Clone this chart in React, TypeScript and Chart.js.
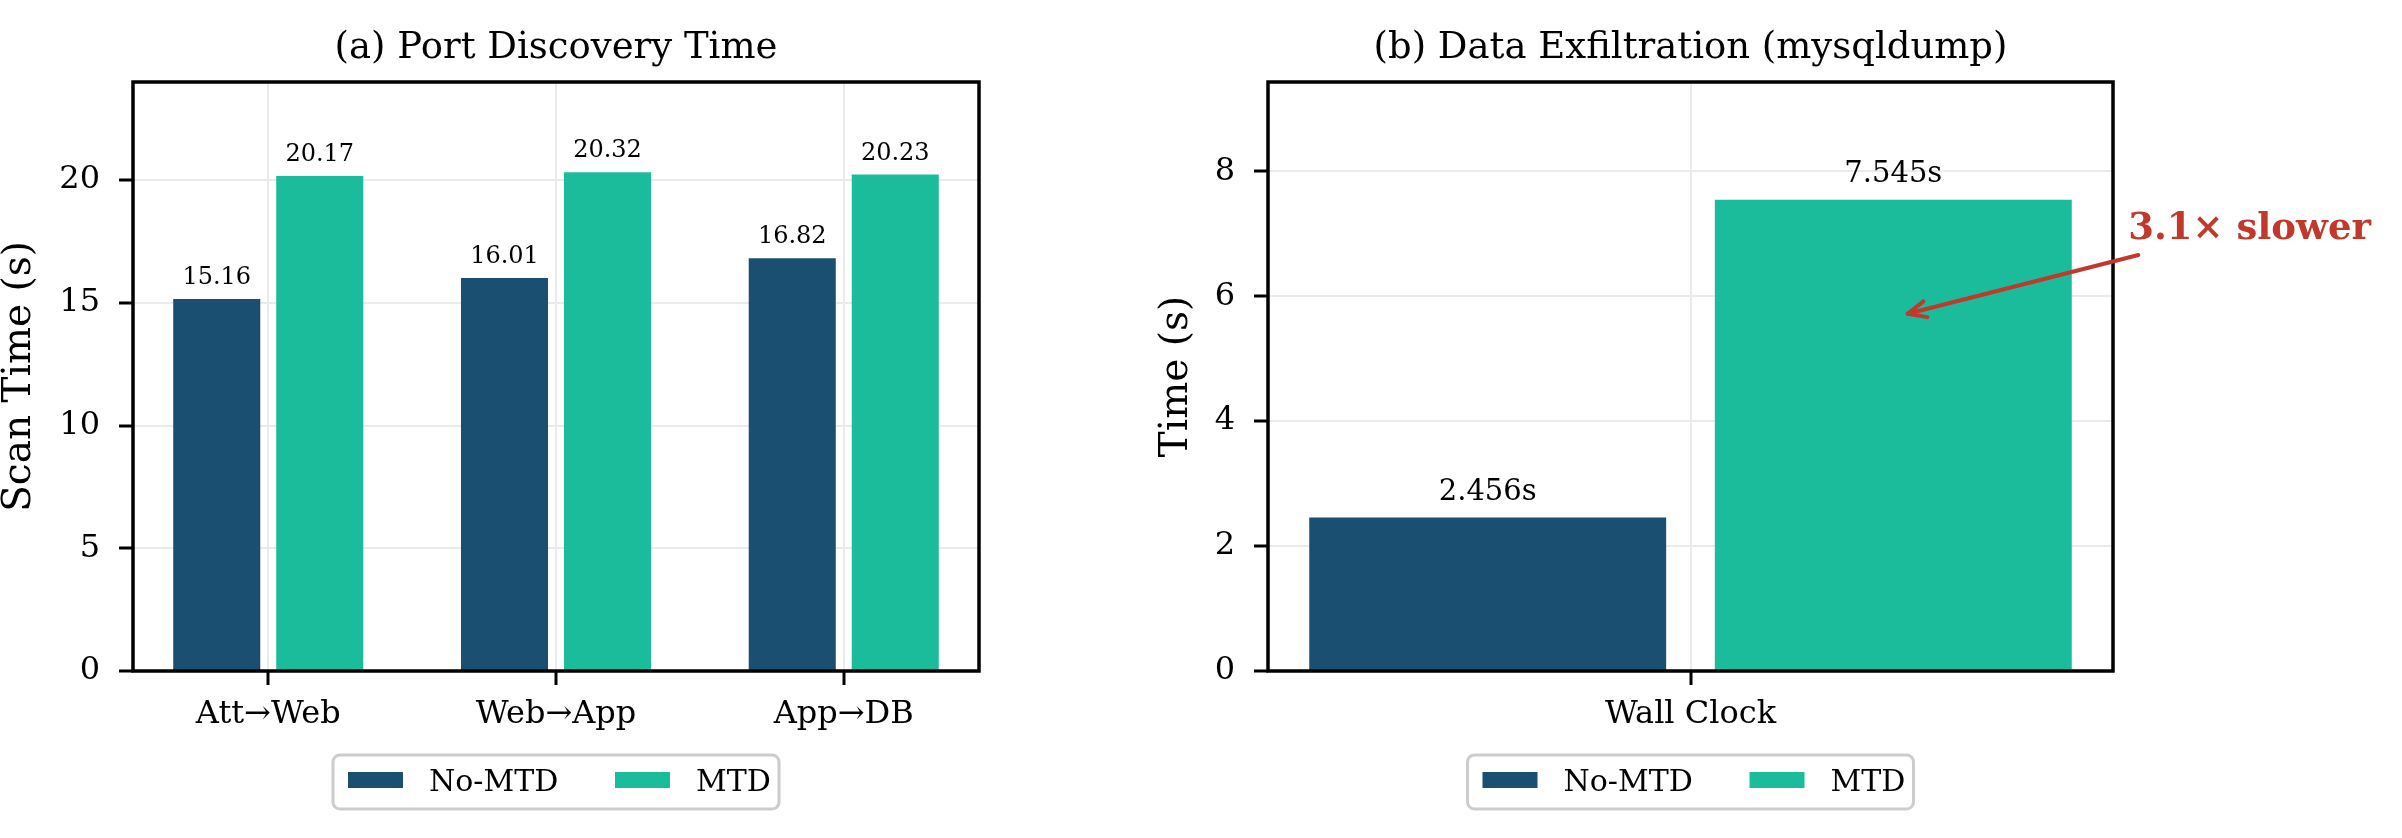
import React, { useEffect, useRef } from 'react';
import { Chart, registerables } from 'chart.js';

Chart.register(...registerables);

// ---- data ----
const SERIES_NAMES = ['No-MTD', 'MTD'];
const SERIES_COLORS = ['#1b4f72', '#1abc9c'];

const SCAN_CATEGORIES = ['Att→Web', 'Web→App', 'App→DB'];
const SCAN_NO_MTD = [15.16, 16.01, 16.82];
const SCAN_MTD = [20.17, 20.32, 20.23];
const SCAN_Y_MAX = 24;
const SCAN_Y_STEP = 5;

const EXFIL_CATEGORIES = ['Wall Clock'];
const EXFIL_NO_MTD = [2.456];
const EXFIL_MTD = [7.545];
const EXFIL_Y_MAX = 9.43;
const EXFIL_Y_STEP = 2;

const SLOWDOWN_TEXT = '3.1× slower';
// annotation anchors in data space (x = category index, y = seconds)
const SLOWDOWN_TEXT_AT = { x: 0.518, y: 6.92 };
const SLOWDOWN_ARROW_FROM = { x: 0.53, y: 6.66 };
const SLOWDOWN_ARROW_TO = { x: 0.257, y: 5.72 };

// ---- styling ----
const FONT = "'DejaVu Serif', serif";
const RED = '#c0392b';
const GRID = '#ebebeb';

type DecorCfg = {
  title: string;
  yTitle: string;
  yTitleOffset: number;
  valueFont: number;
  valueGap: number;
  format: (v: number) => string;
};

function makeDecor(cfg: DecorCfg) {
  return {
    id: 'panelDecor',
    afterDatasetsDraw(chart: any) {
      const { ctx, chartArea: a } = chart;
      ctx.save();

      // value labels above bars
      ctx.font = `${cfg.valueFont}px ${FONT}`;
      ctx.fillStyle = '#000';
      ctx.textAlign = 'center';
      ctx.textBaseline = 'alphabetic';
      chart.data.datasets.forEach((ds: any, i: number) => {
        const meta = chart.getDatasetMeta(i);
        meta.data.forEach((bar: any, j: number) => {
          ctx.fillText(cfg.format(ds.data[j]), bar.x, bar.y - cfg.valueGap);
        });
      });

      // axes frame
      ctx.strokeStyle = '#000';
      ctx.lineWidth = 3.5;
      ctx.strokeRect(a.left, a.top, a.right - a.left, a.bottom - a.top);

      // panel title
      ctx.font = `37px ${FONT}`;
      ctx.fillText(cfg.title, (a.left + a.right) / 2, a.top - 24);

      // y-axis title
      ctx.save();
      ctx.translate(a.left - cfg.yTitleOffset, (a.top + a.bottom) / 2);
      ctx.rotate(-Math.PI / 2);
      ctx.font = `39px ${FONT}`;
      ctx.textBaseline = 'middle';
      ctx.fillText(cfg.yTitle, 0, 0);
      ctx.restore();

      // legend below the axis
      const boxW = 446;
      const boxH = 54;
      const bx = (a.left + a.right) / 2 - boxW / 2;
      const by = a.bottom + 84;
      ctx.beginPath();
      ctx.roundRect(bx, by, boxW, boxH, 7);
      ctx.fillStyle = '#fff';
      ctx.fill();
      ctx.strokeStyle = '#cccccc';
      ctx.lineWidth = 3;
      ctx.stroke();
      const itemX = [15, 282];
      ctx.font = `30px ${FONT}`;
      ctx.textAlign = 'left';
      ctx.textBaseline = 'alphabetic';
      chart.data.datasets.forEach((ds: any, i: number) => {
        ctx.fillStyle = ds.backgroundColor;
        ctx.fillRect(bx + itemX[i], by + 17, 55, 16);
        ctx.fillStyle = '#000';
        ctx.fillText(ds.label, bx + itemX[i] + 81, by + 36);
      });

      ctx.restore();
    },
  };
}

const slowdownArrow = {
  id: 'slowdownArrow',
  afterDraw(chart: any) {
    const { ctx } = chart;
    const xs = chart.scales.x;
    const ys = chart.scales.y;
    const x1 = xs.getPixelForValue(SLOWDOWN_ARROW_FROM.x);
    const y1 = ys.getPixelForValue(SLOWDOWN_ARROW_FROM.y);
    const x2 = xs.getPixelForValue(SLOWDOWN_ARROW_TO.x);
    const y2 = ys.getPixelForValue(SLOWDOWN_ARROW_TO.y);
    ctx.save();
    ctx.strokeStyle = RED;
    ctx.lineWidth = 4;
    ctx.lineCap = 'round';
    ctx.lineJoin = 'round';
    ctx.beginPath();
    ctx.moveTo(x1, y1);
    ctx.lineTo(x2, y2);
    ctx.stroke();
    const ang = Math.atan2(y2 - y1, x2 - x1);
    const h = 20;
    const spread = 0.42;
    ctx.beginPath();
    ctx.moveTo(x2 - h * Math.cos(ang - spread), y2 - h * Math.sin(ang - spread));
    ctx.lineTo(x2, y2);
    ctx.lineTo(x2 - h * Math.cos(ang + spread), y2 - h * Math.sin(ang + spread));
    ctx.stroke();

    ctx.fillStyle = RED;
    ctx.font = `bold 37px ${FONT}`;
    ctx.textAlign = 'left';
    ctx.textBaseline = 'alphabetic';
    ctx.fillText(
      SLOWDOWN_TEXT,
      xs.getPixelForValue(SLOWDOWN_TEXT_AT.x),
      ys.getPixelForValue(SLOWDOWN_TEXT_AT.y)
    );
    ctx.restore();
  },
};

function buildConfig(opts: {
  labels: string[];
  series: number[][];
  yMax: number;
  yStep: number;
  yAxisWidth: number;
  xMargin: number; // category-axis margin on each side, in category units
  padding: { left: number; right: number; top: number; bottom: number };
  categoryPercentage: number;
  barPercentage: number;
  plugins: any[];
}) {
  const gridCommon = {
    color: GRID,
    lineWidth: 2,
    tickColor: '#000',
    tickLength: 14,
    tickWidth: 3,
  };
  const n = opts.labels.length;
  return {
    type: 'bar' as const,
    data: {
      labels: opts.labels,
      datasets: opts.series.map((values, i) => ({
        label: SERIES_NAMES[i],
        data: values,
        backgroundColor: SERIES_COLORS[i],
        borderWidth: 0,
        categoryPercentage: opts.categoryPercentage,
        barPercentage: opts.barPercentage,
      })),
    },
    options: {
      animation: false,
      responsive: false,
      maintainAspectRatio: false,
      devicePixelRatio: 1,
      layout: { padding: opts.padding },
      plugins: {
        legend: { display: false },
        tooltip: { enabled: false },
        title: { display: false },
      },
      scales: {
        x: {
          type: 'category',
          offset: true,
          grid: { ...gridCommon, offset: false },
          border: { display: false },
          ticks: {
            color: '#000',
            font: { family: FONT, size: 32 },
            padding: 10,
            maxRotation: 0,
            autoSkip: false,
          },
          afterFit: (s: any) => {
            s.height = 100;
          },
          afterUpdate: (s: any) => {
            // narrower side margins than the default half category
            s._startValue = -opts.xMargin;
            s._valueRange = n - 1 + 2 * opts.xMargin;
          },
        },
        y: {
          type: 'linear',
          min: 0,
          max: opts.yMax,
          grid: gridCommon,
          border: { display: false },
          ticks: {
            stepSize: opts.yStep,
            includeBounds: false,
            color: '#000',
            font: { family: FONT, size: 32 },
            padding: 19,
          },
          afterFit: (s: any) => {
            s.width = opts.yAxisWidth;
          },
        },
      },
    },
    plugins: opts.plugins,
  };
}

function Panel({ config, width, height, left }: { config: any; width: number; height: number; left: number }) {
  const ref = useRef<HTMLCanvasElement | null>(null);
  useEffect(() => {
    if (!ref.current) return;
    const chart = new Chart(ref.current, config);
    return () => chart.destroy();
  }, [config]);
  return (
    <canvas
      ref={ref}
      width={width}
      height={height}
      style={{ position: 'absolute', left, top: 0, width, height }}
    />
  );
}

const scanConfig = buildConfig({
  labels: SCAN_CATEGORIES,
  series: [SCAN_NO_MTD, SCAN_MTD],
  yMax: SCAN_Y_MAX,
  yStep: SCAN_Y_STEP,
  yAxisWidth: 133,
  xMargin: 0.47,
  padding: { left: 0, right: 121, top: 82, bottom: 67 },
  categoryPercentage: 0.716,
  barPercentage: 0.845,
  plugins: [
    makeDecor({
      title: '(a) Port Discovery Time',
      yTitle: 'Scan Time (s)',
      yTitleOffset: 113.5,
      valueFont: 24,
      valueGap: 15,
      format: (v) => v.toFixed(2),
    }),
  ],
});

const exfilConfig = buildConfig({
  labels: EXFIL_CATEGORIES,
  series: [EXFIL_NO_MTD, EXFIL_MTD],
  yMax: EXFIL_Y_MAX,
  yStep: EXFIL_Y_STEP,
  yAxisWidth: 168,
  xMargin: 0.5,
  padding: { left: 0, right: 289, top: 82, bottom: 67 },
  categoryPercentage: 0.96,
  barPercentage: 0.88,
  plugins: [
    makeDecor({
      title: '(b) Data Exfiltration (mysqldump)',
      yTitle: 'Time (s)',
      yTitleOffset: 91,
      valueFont: 29,
      valueGap: 18,
      format: (v) => `${v.toFixed(3)}s`,
    }),
    slowdownArrow,
  ],
});

export default function App() {
  return (
    <div
      style={{
        position: 'absolute',
        left: 0,
        top: 0,
        width: 2402,
        height: 838,
        background: '#fff',
        overflow: 'hidden',
      }}
    >
      <Panel config={scanConfig} width={1100} height={838} left={0} />
      <Panel config={exfilConfig} width={1302} height={838} left={1100} />
    </div>
  );
}
